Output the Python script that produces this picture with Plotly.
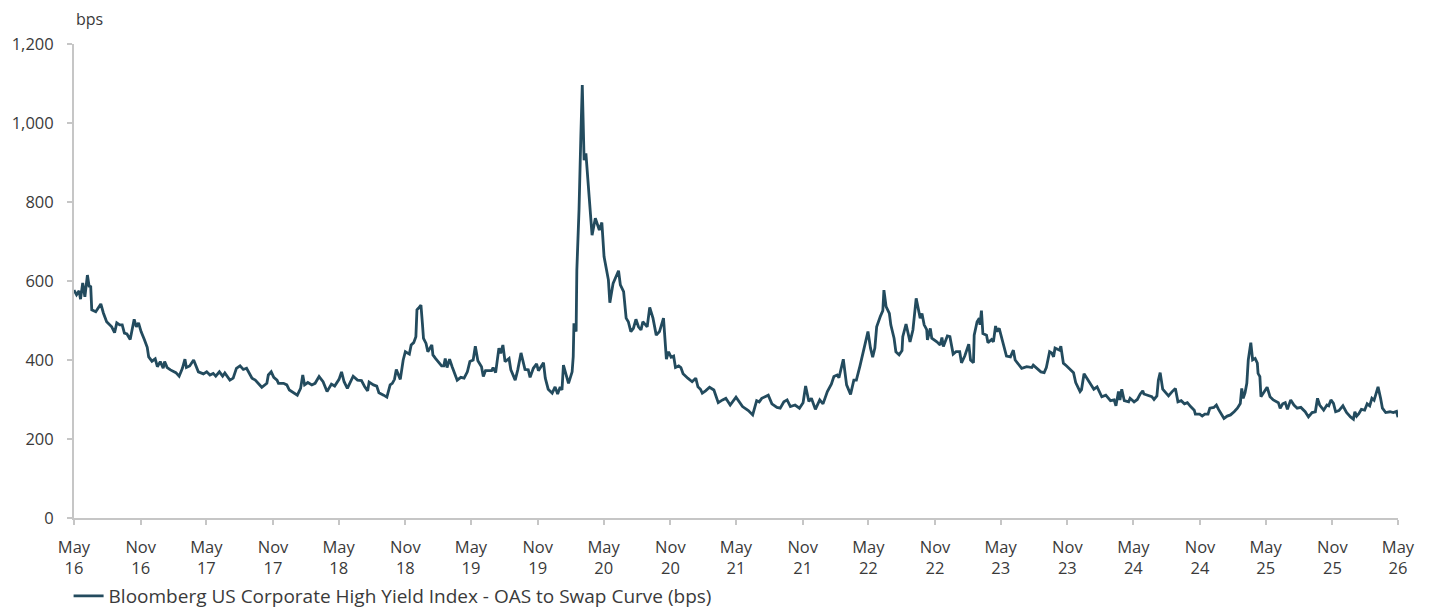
import plotly.graph_objects as go

# Bloomberg US Corporate High Yield Index - OAS to swap curve, in bps
obs_dates = [
    "2016-05-01", "2016-05-08", "2016-05-15", "2016-05-19", "2016-05-25", "2016-05-31",
    "2016-06-07", "2016-06-12", "2016-06-16", "2016-06-19", "2016-06-30", "2016-07-14",
    "2016-07-21", "2016-07-30", "2016-08-13", "2016-08-21", "2016-08-27", "2016-09-04",
    "2016-09-11", "2016-09-17", "2016-09-24", "2016-10-03", "2016-10-14", "2016-10-20",
    "2016-10-26", "2016-11-02", "2016-11-11", "2016-11-19", "2016-11-23", "2016-12-02",
    "2016-12-11", "2016-12-17", "2016-12-25", "2017-01-02", "2017-01-06", "2017-01-13",
    "2017-01-22", "2017-02-06", "2017-02-15", "2017-02-24", "2017-03-03", "2017-03-07",
    "2017-03-16", "2017-03-27", "2017-04-09", "2017-04-23", "2017-05-02", "2017-05-11",
    "2017-05-20", "2017-05-27", "2017-06-06", "2017-06-15", "2017-06-21", "2017-07-05",
    "2017-07-14", "2017-07-23", "2017-08-02", "2017-08-11", "2017-08-20", "2017-09-04",
    "2017-09-13", "2017-09-22", "2017-10-01", "2017-10-15", "2017-10-19", "2017-10-27",
    "2017-11-03", "2017-11-12", "2017-11-16", "2017-11-30", "2017-12-09", "2017-12-16",
    "2017-12-27", "2018-01-07", "2018-01-16", "2018-01-22", "2018-01-27", "2018-02-05",
    "2018-02-16", "2018-02-25", "2018-03-08", "2018-03-19", "2018-03-30", "2018-04-11",
    "2018-04-20", "2018-05-02", "2018-05-09", "2018-05-16", "2018-05-25", "2018-06-10",
    "2018-06-22", "2018-07-03", "2018-07-12", "2018-07-20", "2018-07-24", "2018-08-05",
    "2018-08-14", "2018-08-20", "2018-09-02", "2018-09-11", "2018-09-20", "2018-09-26",
    "2018-10-02", "2018-10-07", "2018-10-18", "2018-10-26", "2018-11-01", "2018-11-12",
    "2018-11-17", "2018-11-24", "2018-11-30", "2018-12-03", "2018-12-07", "2018-12-14",
    "2018-12-18", "2018-12-21", "2018-12-28", "2019-01-02", "2019-01-13", "2019-01-16",
    "2019-01-23", "2019-02-03", "2019-02-09", "2019-02-15", "2019-02-19", "2019-02-24",
    "2019-03-03", "2019-03-10", "2019-03-24", "2019-04-03", "2019-04-12", "2019-04-21",
    "2019-04-28", "2019-05-07", "2019-05-13", "2019-05-20", "2019-05-30", "2019-06-04",
    "2019-06-10", "2019-06-27", "2019-07-01", "2019-07-08", "2019-07-17", "2019-07-22",
    "2019-07-28", "2019-08-03", "2019-08-14", "2019-08-19", "2019-08-31", "2019-09-07",
    "2019-09-16", "2019-09-27", "2019-10-06", "2019-10-11", "2019-10-20", "2019-10-29",
    "2019-11-03", "2019-11-17", "2019-11-22", "2019-11-30", "2019-12-11", "2019-12-19",
    "2019-12-26", "2020-01-02", "2020-01-07", "2020-01-11", "2020-01-18", "2020-01-25",
    "2020-02-04", "2020-02-07", "2020-02-09", "2020-02-15", "2020-02-17", "2020-02-23",
    "2020-02-28", "2020-03-03", "2020-03-08", "2020-03-13", "2020-03-22", "2020-03-30",
    "2020-04-08", "2020-04-14", "2020-04-19", "2020-04-26", "2020-05-02", "2020-05-14",
    "2020-05-18", "2020-05-27", "2020-06-11", "2020-06-16", "2020-06-25", "2020-07-02",
    "2020-07-08", "2020-07-15", "2020-07-22", "2020-07-29", "2020-08-05", "2020-08-12",
    "2020-08-17", "2020-08-29", "2020-09-05", "2020-09-14", "2020-09-23", "2020-10-02",
    "2020-10-13", "2020-10-21", "2020-10-27", "2020-11-03", "2020-11-10", "2020-11-15",
    "2020-11-24", "2020-11-30", "2020-12-06", "2020-12-19", "2020-12-31", "2021-01-10",
    "2021-01-16", "2021-01-23", "2021-01-28", "2021-02-06", "2021-02-17", "2021-03-01",
    "2021-03-13", "2021-03-25", "2021-04-03", "2021-04-15", "2021-05-01", "2021-05-19",
    "2021-06-04", "2021-06-16", "2021-06-27", "2021-07-04", "2021-07-11", "2021-07-29",
    "2021-08-08", "2021-08-22", "2021-08-31", "2021-09-10", "2021-09-19", "2021-09-28",
    "2021-10-11", "2021-10-23", "2021-11-02", "2021-11-09", "2021-11-18", "2021-11-25",
    "2021-12-06", "2021-12-18", "2021-12-27", "2022-01-08", "2022-01-19", "2022-01-26",
    "2022-02-04", "2022-02-09", "2022-02-15", "2022-02-21", "2022-03-02", "2022-03-13",
    "2022-03-22", "2022-03-29", "2022-04-08", "2022-04-15", "2022-04-24", "2022-04-30",
    "2022-05-07", "2022-05-13", "2022-05-19", "2022-05-24", "2022-06-03", "2022-06-10",
    "2022-06-13", "2022-06-19", "2022-06-28", "2022-07-02", "2022-07-11", "2022-07-16",
    "2022-07-25", "2022-08-02", "2022-08-04", "2022-08-13", "2022-08-24", "2022-09-01",
    "2022-09-10", "2022-09-21", "2022-09-26", "2022-10-02", "2022-10-09", "2022-10-11",
    "2022-10-19", "2022-10-23", "2022-11-06", "2022-11-15", "2022-11-20", "2022-11-24",
    "2022-12-05", "2022-12-12", "2022-12-21", "2022-12-29", "2023-01-08", "2023-01-13",
    "2023-01-22", "2023-02-02", "2023-02-07", "2023-02-15", "2023-02-17", "2023-02-25",
    "2023-03-03", "2023-03-05", "2023-03-09", "2023-03-13", "2023-03-23", "2023-03-27",
    "2023-04-06", "2023-04-11", "2023-04-17", "2023-04-21", "2023-04-27", "2023-05-02",
    "2023-05-10", "2023-05-17", "2023-05-28", "2023-06-05", "2023-06-10", "2023-06-19",
    "2023-06-28", "2023-07-12", "2023-07-26", "2023-07-30", "2023-08-09", "2023-08-20",
    "2023-08-29", "2023-09-04", "2023-09-13", "2023-09-19", "2023-09-24", "2023-09-28",
    "2023-10-05", "2023-10-10", "2023-10-14", "2023-10-21", "2023-10-30", "2023-11-06",
    "2023-11-18", "2023-11-24", "2023-12-06", "2023-12-10", "2023-12-17", "2023-12-31",
    "2024-01-13", "2024-01-22", "2024-02-04", "2024-02-15", "2024-02-28", "2024-03-09",
    "2024-03-14", "2024-03-21", "2024-03-25", "2024-03-30", "2024-04-06", "2024-04-18",
    "2024-04-22", "2024-05-03", "2024-05-12", "2024-05-20", "2024-05-27", "2024-05-30",
    "2024-06-09", "2024-06-21", "2024-06-27", "2024-07-05", "2024-07-09", "2024-07-14",
    "2024-07-21", "2024-07-30", "2024-08-06", "2024-08-16", "2024-08-25", "2024-09-01",
    "2024-09-10", "2024-09-19", "2024-09-27", "2024-10-06", "2024-10-16", "2024-10-19",
    "2024-10-31", "2024-11-07", "2024-11-14", "2024-11-23", "2024-11-28", "2024-12-09",
    "2024-12-16", "2024-12-22", "2024-12-29", "2025-01-06", "2025-01-15", "2025-01-24",
    "2025-02-03", "2025-02-12", "2025-02-20", "2025-02-24", "2025-02-28", "2025-03-05",
    "2025-03-10", "2025-03-14", "2025-03-21", "2025-03-26", "2025-04-02", "2025-04-08",
    "2025-04-10", "2025-04-15", "2025-04-18", "2025-04-24", "2025-05-05", "2025-05-13",
    "2025-05-22", "2025-06-05", "2025-06-10", "2025-06-17", "2025-06-24", "2025-06-30",
    "2025-07-09", "2025-07-18", "2025-07-27", "2025-08-06", "2025-08-18", "2025-08-27",
    "2025-09-06", "2025-09-15", "2025-09-21", "2025-09-27", "2025-10-08", "2025-10-17",
    "2025-10-22", "2025-10-28", "2025-11-04", "2025-11-10", "2025-11-19", "2025-11-30",
    "2025-12-10", "2025-12-21", "2025-12-29", "2026-01-02", "2026-01-07", "2026-01-13",
    "2026-01-20", "2026-01-29", "2026-02-05", "2026-02-12", "2026-02-18", "2026-02-24",
    "2026-03-01", "2026-03-07", "2026-03-14", "2026-03-19", "2026-03-28", "2026-04-09",
    "2026-04-18", "2026-04-27", "2026-05-01",
]

oas_bps = [
    577, 565, 575, 554, 595, 560,
    615, 585, 588, 527, 522, 542,
    519, 497, 484, 469, 494, 489,
    489, 468, 466, 452, 503, 484,
    494, 472, 452, 432, 408, 397,
    403, 383, 396, 379, 396, 381,
    375, 368, 359, 379, 402, 381,
    385, 400, 370, 365, 370, 362,
    366, 359, 370, 359, 367, 349,
    354, 379, 385, 376, 379, 354,
    349, 341, 331, 341, 362, 370,
    356, 349, 341, 341, 337, 324,
    317, 311, 328, 362, 337, 343,
    337, 341, 358, 345, 320, 339,
    334, 351, 370, 345, 328, 359,
    349, 348, 332, 322, 344, 337,
    334, 317, 311, 306, 337, 341,
    351, 376, 351, 400, 421, 415,
    438, 444, 459, 527, 531, 539,
    493, 455, 442, 421, 438, 413,
    404, 393, 385, 385, 404, 381,
    402, 383, 349, 356, 354, 370,
    396, 400, 435, 398, 383, 358,
    373, 373, 381, 368, 430, 417,
    438, 396, 404, 375, 349, 375,
    418, 376, 375, 356, 379, 390,
    373, 393, 354, 326, 316, 332,
    314, 332, 324, 387, 362, 341,
    370, 408, 493, 472, 628, 780,
    965, 1096, 906, 923, 813, 716,
    759, 742, 729, 748, 662, 603,
    545, 594, 626, 590, 573, 506,
    497, 472, 480, 503, 484, 476,
    497, 484, 533, 506, 463, 472,
    506, 402, 421, 407, 410, 381,
    385, 381, 365, 354, 345, 354,
    332, 326, 316, 322, 331, 324,
    292, 299, 303, 286, 306, 282,
    272, 261, 297, 294, 303, 311,
    289, 280, 278, 294, 299, 282,
    286, 278, 292, 334, 295, 303,
    275, 299, 289, 320, 339, 358,
    362, 355, 383, 402, 337, 313,
    349, 349, 385, 413, 455, 472,
    430, 407, 430, 484, 510, 525,
    577, 535, 518, 489, 455, 421,
    413, 424, 459, 491, 446, 476,
    556, 506, 518, 489, 477, 451,
    480, 455, 446, 438, 457, 434,
    461, 459, 415, 421, 421, 393,
    410, 440, 400, 393, 463, 497,
    506, 489, 525, 467, 463, 444,
    452, 446, 486, 472, 480, 463,
    438, 410, 408, 425, 400, 390,
    379, 383, 381, 387, 379, 370,
    368, 381, 421, 418, 408, 430,
    427, 425, 435, 392, 385, 378,
    368, 343, 320, 325, 365, 345,
    326, 332, 307, 311, 297, 299,
    284, 320, 299, 326, 297, 294,
    303, 294, 300, 314, 322, 314,
    311, 307, 300, 309, 349, 368,
    326, 316, 309, 320, 328, 294,
    297, 289, 292, 282, 273, 263,
    263, 258, 263, 263, 278, 280,
    286, 275, 265, 252, 258, 261,
    269, 278, 290, 328, 303, 317,
    341, 400, 444, 400, 404, 392,
    366, 358, 307, 316, 331, 307,
    299, 292, 278, 289, 292, 275,
    299, 286, 278, 280, 269, 256,
    267, 269, 303, 286, 273, 286,
    284, 299, 290, 269, 272, 284,
    267, 256, 250, 269, 258, 264,
    275, 273, 289, 284, 303, 298,
    311, 332, 303, 278, 267, 269,
    267, 270, 255,
]

# Half-yearly axis ticks
tick_dates = [
    "2016-05-01", "2016-11-01", "2017-05-01", "2017-11-01", "2018-05-01", "2018-11-01",
    "2019-05-01", "2019-11-01", "2020-05-01", "2020-11-01", "2021-05-01", "2021-11-01",
    "2022-05-01", "2022-11-01", "2023-05-01", "2023-11-01", "2024-05-01", "2024-11-01",
    "2025-05-01", "2025-11-01", "2026-05-01",
]
tick_labels = [
    "May<br>16", "Nov<br>16", "May<br>17", "Nov<br>17", "May<br>18", "Nov<br>18",
    "May<br>19", "Nov<br>19", "May<br>20", "Nov<br>20", "May<br>21", "Nov<br>21",
    "May<br>22", "Nov<br>22", "May<br>23", "Nov<br>23", "May<br>24", "Nov<br>24",
    "May<br>25", "Nov<br>25", "May<br>26",
]
y_ticks = [0, 200, 400, 600, 800, 1000, 1200]

series_name = "Bloomberg US Corporate High Yield Index - OAS to Swap Curve (bps)"
line_color = "#234b5e"
axis_color = "#c6c6c6"
text_color = "#3a3a3a"
font_family = "'Open Sans', Lato, sans-serif"

fig = go.Figure(
    go.Scatter(
        x=obs_dates,
        y=oas_bps,
        mode="lines",
        name=series_name,
        line=dict(color=line_color, width=2.8),
    )
)

fig.update_layout(
    width=1429,
    height=615,
    margin=dict(l=74, r=31, t=44, b=97, autoexpand=False),
    paper_bgcolor="white",
    plot_bgcolor="white",
    font=dict(family=font_family, size=16.5, color=text_color),
    showlegend=True,
    legend=dict(
        orientation="h",
        xref="container",
        yref="container",
        x=0.048,
        xanchor="left",
        y=0.0,
        yanchor="bottom",
        borderwidth=0,
        font=dict(size=19, color=text_color),
        bgcolor="rgba(0,0,0,0)",
    ),
    annotations=[
        dict(
            text="bps",
            xref="paper",
            yref="paper",
            x=0,
            y=1,
            xanchor="left",
            yanchor="bottom",
            yshift=12,
            showarrow=False,
            font=dict(size=16, color=text_color),
        )
    ],
)

fig.update_xaxes(
    type="date",
    range=["2016-05-01", "2026-05-01"],
    tickmode="array",
    tickvals=tick_dates,
    ticktext=tick_labels,
    showgrid=False,
    zeroline=False,
    showline=True,
    linecolor=axis_color,
    linewidth=2,
    ticks="outside",
    tickcolor=axis_color,
    ticklen=5,
    tickwidth=1.5,
    ticklabelstandoff=8,
    tickfont=dict(size=16.5, color=text_color),
)

fig.update_yaxes(
    range=[0, 1200],
    tickmode="array",
    tickvals=y_ticks,
    tickformat=",d",
    showgrid=False,
    zeroline=False,
    showline=True,
    linecolor=axis_color,
    linewidth=2,
    ticks="outside",
    tickcolor=axis_color,
    ticklen=5,
    tickwidth=1.5,
    ticklabelstandoff=10,
    tickfont=dict(size=16.5, color=text_color),
)

fig.write_html("out.html")
